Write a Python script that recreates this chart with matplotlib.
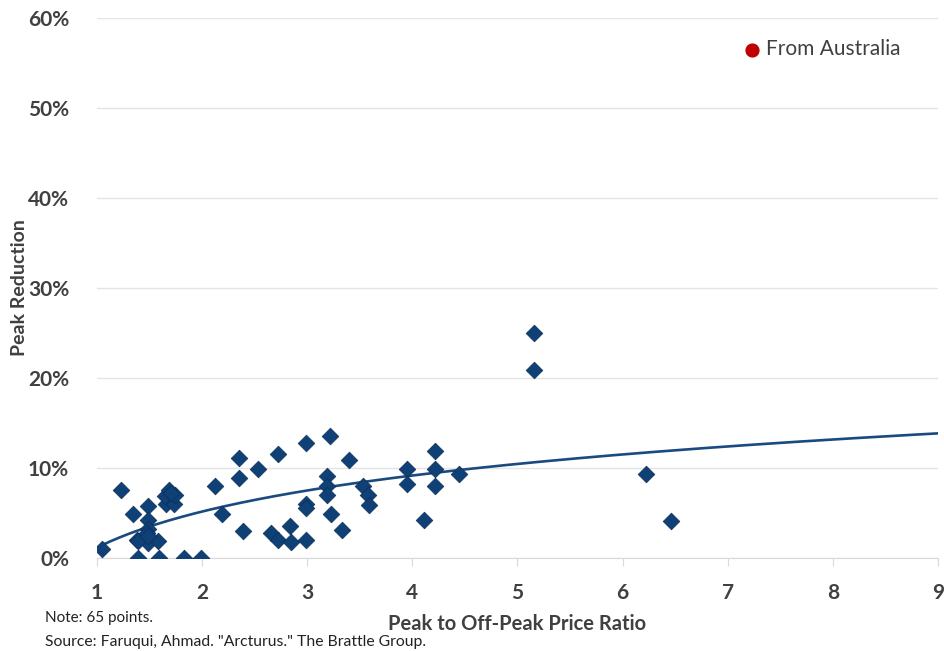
import numpy as np
import matplotlib.pyplot as plt
from matplotlib.ticker import FuncFormatter

# Peak to off-peak price ratio vs. observed peak reduction (%)
price_ratio = [
    1.05, 1.23, 1.34, 1.38, 1.39, 1.49, 1.49, 1.49, 1.48, 1.49,
    1.39, 1.58, 1.49, 1.59, 1.83, 1.99, 1.66, 1.73, 1.65, 1.74,
    1.69, 1.70, 2.12, 2.19, 2.35, 2.35, 2.53, 2.72, 2.39, 2.66,
    2.72, 2.84, 2.85, 2.99, 2.99, 2.99, 2.99, 3.22, 3.40, 3.19,
    3.19, 3.19, 3.23, 3.33, 3.53, 3.58, 3.59, 3.95, 3.95, 4.22,
    4.22, 4.22, 4.44, 4.11, 5.16, 5.16, 6.22, 6.46,
]
peak_reduction = [
    1.0, 7.5, 4.9, 2.0, 0.0, 5.8, 4.2, 3.2, 2.8, 1.7,
    1.9, 1.9, 2.4, 0.0, 0.0, 0.0, 6.0, 6.0, 6.9, 7.0,
    7.5, 7.2, 8.0, 4.9, 11.1, 8.9, 9.9, 11.5, 3.0, 2.8,
    2.0, 3.6, 1.8, 12.8, 6.0, 5.5, 2.0, 13.6, 10.9, 9.1,
    8.0, 7.0, 4.9, 3.1, 8.0, 7.0, 5.9, 9.9, 8.2, 11.9,
    9.9, 8.0, 9.3, 4.2, 25.0, 20.9, 9.3, 4.1,
]

x_ticks = [1, 2, 3, 4, 5, 6, 7, 8, 9]
y_ticks = [0, 10, 20, 30, 40, 50, 60]

navy = '#0f4177'
line_blue = '#1b4a80'
text_gray = '#404040'
grid_gray = '#e4e4e4'

plt.rcParams['font.family'] = ['Lato', 'DejaVu Sans']

fig = plt.figure(figsize=(9.45, 6.51), dpi=100)
ax = fig.add_axes([0.1026, 0.1429, 0.89, 0.8295])

# logarithmic trend line fitted to the observations
x_arr = np.array(price_ratio)
b, a = np.polyfit(np.log(x_arr), np.array(peak_reduction), 1)
x_fit = np.linspace(min(price_ratio), 9, 200)
ax.plot(x_fit, a + b * np.log(x_fit), color=line_blue, lw=1.9, zorder=3)

ax.scatter(price_ratio, peak_reduction, marker='D', s=72, color=navy,
           edgecolor='#0a2f58', linewidth=0.5, zorder=4)

# legend entry only, no Australian points in this view
ax.scatter([], [], marker='o', s=85, color='#c00000', label='From Australia')
leg = ax.legend(loc='center left', bbox_to_anchor=(0.788, 0.9247),
                bbox_transform=fig.transFigure, frameon=False,
                handlelength=0.7, handletextpad=0.32, borderpad=0,
                borderaxespad=0, fontsize=15)
for t in leg.get_texts():
    t.set_color(text_gray)

ax.set_xlim(1, 9)
ax.set_ylim(0, 60)
ax.set_xticks(x_ticks)
ax.set_yticks(y_ticks)
ax.yaxis.set_major_formatter(FuncFormatter(lambda v, p: f'{int(v)}%'))

ax.grid(axis='y', color=grid_gray, lw=1)
ax.set_axisbelow(True)
for side in ['top', 'right', 'left']:
    ax.spines[side].set_visible(False)
ax.spines['bottom'].set_color('#d9d9d9')

ax.tick_params(axis='x', length=6, color='#d9d9d9', pad=12,
               labelsize=15, labelcolor=text_gray)
ax.tick_params(axis='y', length=0, pad=20, labelsize=15, labelcolor=text_gray)
for lbl in ax.get_xticklabels() + ax.get_yticklabels():
    lbl.set_fontweight('bold')

ax.set_xlabel('Peak to Off-Peak Price Ratio', fontsize=14.5, fontweight='bold',
              color=text_gray, labelpad=8)
ax.set_ylabel('Peak Reduction', fontsize=14, fontweight='bold',
              color=text_gray, labelpad=0)

fig.text(0.048, 0.051, 'Note: 65 points.', fontsize=11, color='#222222',
         va='center')
fig.text(0.048, 0.0138, 'Source: Faruqui, Ahmad. "Arcturus." The Brattle Group.',
         fontsize=11.3, color='#222222', va='center')

fig.savefig('out.png', dpi=100)
